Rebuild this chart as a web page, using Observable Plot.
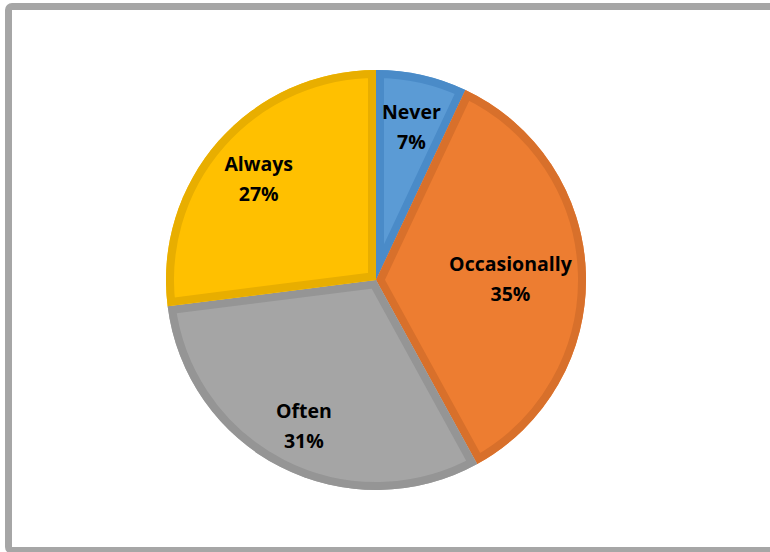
<!DOCTYPE html>
<html><head><meta charset="utf-8">
<script src="https://cdn.jsdelivr.net/npm/d3@7"></script>
<script src="https://cdn.jsdelivr.net/npm/@observablehq/plot@0.6"></script>
<style>
body{margin:0;background:#fff;}
#wrap{position:relative;width:770px;height:552px;overflow:hidden;}
#frame{position:absolute;left:5px;top:3px;width:800px;height:551px;box-sizing:border-box;border:7px solid #a6a6a6;border-radius:7px;}
#chart{position:absolute;left:0;top:0;}
</style></head><body>
<div id="wrap"><div id="chart"></div><div id="frame"></div></div>
<script>
const categories = ["Never", "Occasionally", "Often", "Always"];
const values = [7, 35, 31, 27];
const fills = ["#5b9bd5", "#ed7d31", "#a5a5a5", "#ffc000"];
const borders = ["#4a8bc8", "#d8702b", "#959595", "#e8ae00"];

const R = 210;        // pie radius (px units on the scales)
const LABEL_R = 160;  // preferred label distance from centre
const LABEL_PAD = 12; // keep label boxes this far inside the rim
const BORDER = 8;     // inner darker border width
const FONT_SIZE = 19.5;
const LINE_H = 30;
const FONT_FAMILY = "'Open Sans', Lato, sans-serif";

const data = categories.map((name, i) => ({name, value: values[i], fill: fills[i], border: borders[i]}));

// measure label widths to pull wide labels inward (best-fit placement)
const ctx = document.createElement("canvas").getContext("2d");
ctx.font = `bold ${FONT_SIZE}px ${FONT_FAMILY}`;

const arcs = d3.pie().sort(null).value(d => d.value)(data).map(a => {
  const d = a.data;
  const mid = (a.startAngle + a.endAngle) / 2;
  const hw = Math.max(ctx.measureText(d.name).width, ctx.measureText(d.value + "%").width) / 2;
  const hh = (LINE_H + FONT_SIZE * 0.75) / 2;
  let L = LABEL_R;
  const fits = L => {
    const x = L * Math.sin(mid), y = L * Math.cos(mid);
    return [[-1,-1],[-1,1],[1,-1],[1,1]].every(([sx, sy]) => Math.hypot(x + sx * hw, y + sy * hh) <= R - LABEL_PAD);
  };
  while (L > 40 && !fits(L)) L -= 1;
  return {...d, startAngle: a.startAngle, endAngle: a.endAngle, mid, labelR: L};
});

function pieMark(index, scales) {
  const cx = scales.x(0), cy = scales.y(0);
  const r = scales.x(R) - cx;
  const arcGen = d3.arc().innerRadius(0).outerRadius(r);
  const g = d3.create("svg:g").attr("transform", `translate(${cx},${cy})`);
  const defs = g.append("defs");
  arcs.forEach((d, i) => {
    const p = arcGen(d);
    const id = "clip-slice-" + i;
    defs.append("clipPath").attr("id", id).append("path").attr("d", p);
    g.append("path").attr("d", p).attr("fill", d.fill);
    g.append("path").attr("d", p)
      .attr("fill", "none")
      .attr("stroke", d.border)
      .attr("stroke-width", BORDER * 2)
      .attr("stroke-linejoin", "miter")
      .attr("clip-path", `url(#${id})`);
  });
  return g.node();
}

const plot = Plot.plot({
  width: 770,
  height: 552,
  margin: 0,
  x: {domain: [-376, 394], range: [0, 770], axis: null},
  y: {domain: [-272, 280], range: [552, 0], axis: null},
  style: {fontFamily: FONT_FAMILY, background: "transparent"},
  marks: [
    pieMark,
    Plot.text(arcs, {
      x: d => d.labelR * Math.sin(d.mid),
      y: d => d.labelR * Math.cos(d.mid),
      text: d => `${d.name}\n${d.value}%`,
      fontSize: FONT_SIZE,
      fontWeight: "bold",
      lineHeight: LINE_H / FONT_SIZE,
      fill: "#000"
    })
  ]
});
document.getElementById("chart").appendChild(plot);
</script>
</body></html>
